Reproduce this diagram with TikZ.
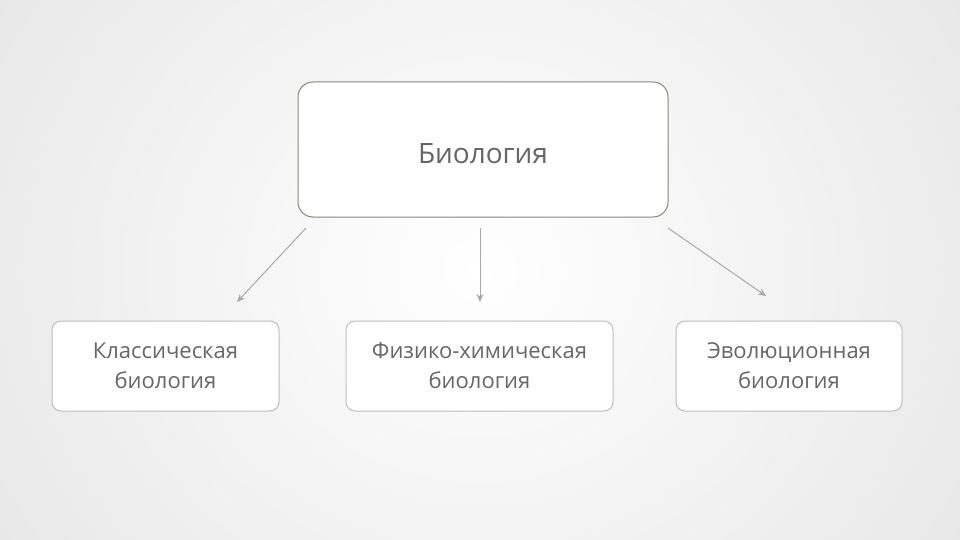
\documentclass[tikz,border=0pt]{standalone}
\usepackage{fontspec}
\setmainfont{Open Sans}
\usetikzlibrary{arrows.meta}
\definecolor{topb}{HTML}{8A8878}
\definecolor{subb}{HTML}{BDBDB8}
\definecolor{txt}{HTML}{666666}
\definecolor{arr}{HTML}{A8A8A4}
\tikzset{
 box/.style={draw, rounded corners=9pt, line width=1pt, fill=white, text=txt, align=center, inner sep=0pt},
 subtxt/.style={font=\fontsize{22}{30}\selectfont},
 conn/.style={draw=arr, line width=1pt, -{Stealth[length=8pt,width=7pt]}}
}
\begin{document}
\begin{tikzpicture}[x=1pt,y=-1pt]
\useasboundingbox (0,0) rectangle (960,540);
\shade[inner color=white, outer color=black!10] (-150,-300) rectangle (1110,840);
\node[box, draw=topb, rounded corners=15pt, minimum width=370pt, minimum height=135pt] (top) at (483,149.5) {};
\node[text=txt, font=\fontsize{28}{32}\selectfont] (toptxt) at (top.center) [yshift=-4pt] {Биология};
\node[box, draw=subb, minimum width=227pt, minimum height=90pt, subtxt] (a) at (165.5,366) {Классическая\\биология};
\node[box, draw=subb, minimum width=267pt, minimum height=90pt, subtxt] (b) at (479.5,366) {Физико-химическая\\биология};
\node[box, draw=subb, minimum width=226pt, minimum height=90pt, subtxt] (c) at (789,366) {Эволюционная\\биология};
\coordinate (s1) at (306,228); \coordinate (e1) at (237,302);
\coordinate (s2) at (480,228); \coordinate (e2) at (480,302);
\coordinate (s3) at (668,228); \coordinate (e3) at (766,296);
\draw[conn] (s1) -- (e1);
\draw[conn] (s2) -- (e2);
\draw[conn] (s3) -- (e3);
\end{tikzpicture}
\end{document}
